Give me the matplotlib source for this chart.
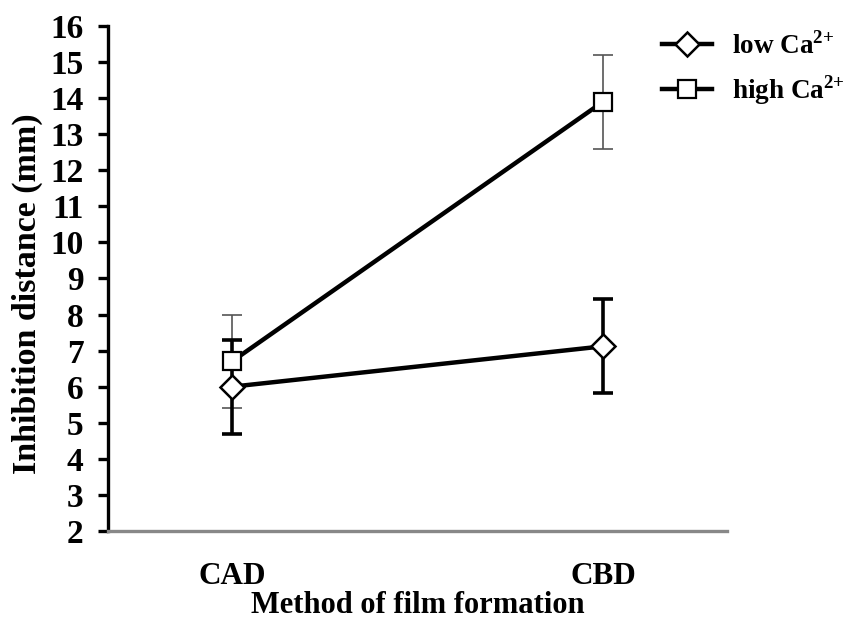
import matplotlib.pyplot as plt
import numpy as np

# Data
methods = ['CAD', 'CBD']
low_ca = [6.0, 7.12]
low_err = [1.3, 1.3]
high_ca = [6.7, 13.9]
high_err = [1.3, 1.3]

plt.rcParams['font.family'] = ['Liberation Serif', 'DejaVu Serif']
plt.rcParams['font.weight'] = 'bold'
plt.rcParams['mathtext.fontset'] = 'custom'
plt.rcParams['mathtext.rm'] = 'Liberation Serif:bold'
plt.rcParams['mathtext.bf'] = 'Liberation Serif:bold'

fig = plt.figure(figsize=(8.53, 6.19), dpi=100)
ax = fig.add_axes([0.1266, 0.1422, 0.7257, 0.8158])

x = np.arange(len(methods))

# error bars first so markers sit on top
ax.errorbar(x, high_ca, yerr=high_err, fmt='none', ecolor='#555555',
            elinewidth=1.2, capsize=7, capthick=1.2, zorder=2)
ax.errorbar(x, low_ca, yerr=low_err, fmt='none', ecolor='black',
            elinewidth=2.6, capsize=7, capthick=2.6, zorder=2)

ax.plot(x, low_ca, color='black', lw=3.2, marker='D', markersize=12,
        markerfacecolor='white', markeredgecolor='black', markeredgewidth=1.8,
        label='low Ca$^{2{+}}$', zorder=3)
ax.plot(x, high_ca, color='black', lw=3.2, marker='s', markersize=13,
        markerfacecolor='white', markeredgecolor='black', markeredgewidth=1.6,
        label='high Ca$^{2{+}}$', zorder=3)

ax.set_xlim(-0.334, 1.334)
ax.set_ylim(2, 16)
ax.set_yticks(range(2, 17))
ax.set_xticks(x)
ax.set_xticklabels(methods)

ax.spines['top'].set_visible(False)
ax.spines['right'].set_visible(False)
ax.spines['left'].set_linewidth(2.4)
ax.spines['bottom'].set_linewidth(2.4)
ax.spines['bottom'].set_color('#888888')

ax.tick_params(axis='y', direction='out', length=7.5, width=2.4,
               labelsize=24, pad=10)
ax.tick_params(axis='x', length=0, labelsize=22.5, pad=22)

ax.set_xlabel('Method of film formation', fontsize=22, fontweight='bold',
              labelpad=0)
ax.set_ylabel('Inhibition distance (mm)', fontsize=24.5, fontweight='bold')
ax.yaxis.set_label_coords(-0.105, 0.469)

leg = fig.legend(loc='upper left', bbox_to_anchor=(0.7637, 0.966),
                 frameon=False, fontsize=19.5, handlelength=1.85,
                 handletextpad=0.74, labelspacing=0.5, borderaxespad=0)

fig.savefig('out.png', dpi=100, facecolor='white')
plt.close()
